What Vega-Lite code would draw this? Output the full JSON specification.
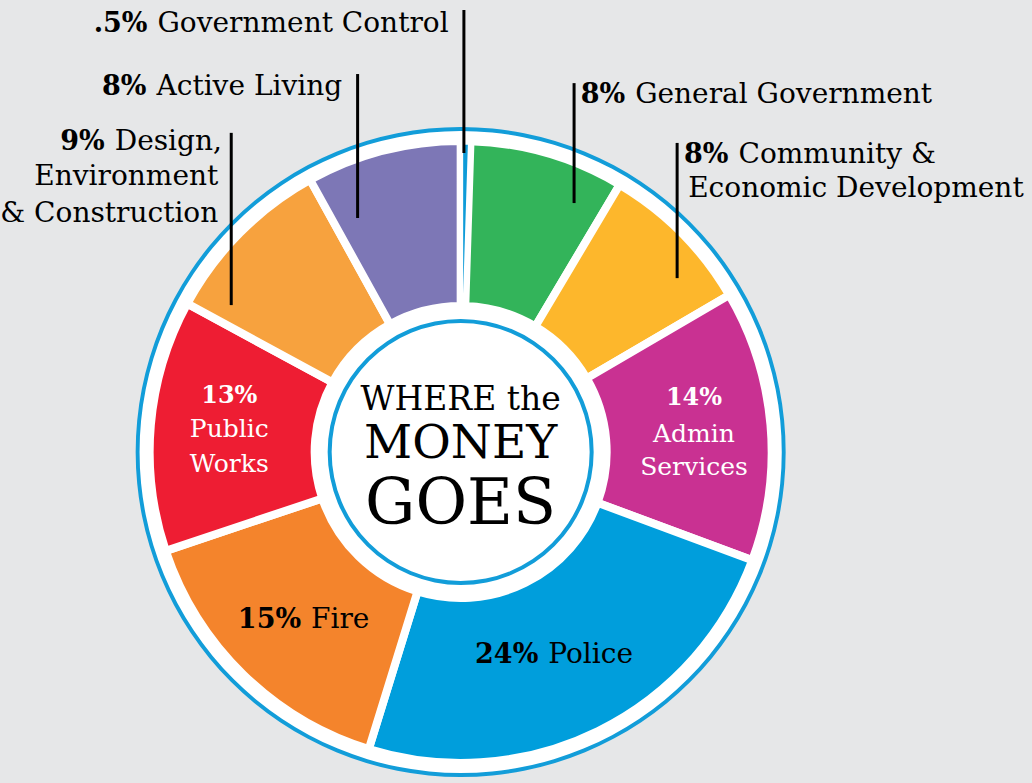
{
  "$schema": "https://vega.github.io/schema/vega-lite/v6.json",
  "autosize": {"type": "fit", "contains": "padding"},
  "width": 1032,
  "height": 783,
  "padding": 0,
  "background": "#e6e7e8",
  "config": {"view": {"stroke": null}},
  "datasets": {
    "slices": [
      {"category": "Government Control", "share": 0.5, "order": 1},
      {"category": "General Government", "share": 8, "order": 2},
      {"category": "Community & Economic Development", "share": 8, "order": 3},
      {"category": "Admin Services", "share": 14, "order": 4},
      {"category": "Police", "share": 24, "order": 5},
      {"category": "Fire", "share": 15, "order": 6},
      {"category": "Public Works", "share": 13, "order": 7},
      {"category": "Design, Environment & Construction", "share": 9, "order": 8},
      {"category": "Active Living", "share": 8, "order": 9}
    ],
    "lineLabels": [
      {"category": "Government Control", "pct": ".5%", "name": "Government Control", "x": -95.1, "y": 129.3},
      {"category": "Active Living", "pct": "8%", "name": "Active Living", "x": -95.4, "y": 109.8},
      {"category": "Design, Environment & Construction", "pct": "9%", "name": "Design,", "x": -108.3, "y": 92.9},
      {"category": "General Government", "pct": "8%", "name": "General Government", "x": 52.3, "y": 107.4},
      {"category": "Community & Economic Development", "pct": "8%", "name": "Community &", "x": 84.2, "y": 88.9},
      {"category": "Fire", "pct": "15%", "name": "Fire", "x": -47.7, "y": -54.1},
      {"category": "Police", "pct": "24%", "name": "Police", "x": 25.5, "y": -64.9}
    ],
    "rightLines": [
      {"text": "Environment", "x": -74.8, "y": 82.2},
      {"text": "& Construction", "x": -74.8, "y": 70.8}
    ],
    "leftLines": [
      {"text": "Economic Development", "x": 70.2, "y": 78.5}
    ],
    "insidePct": [
      {"text": "13%", "x": -71.4, "y": 15.2},
      {"text": "14%", "x": 72.0, "y": 14.5}
    ],
    "insideNames": [
      {"text": "Public", "x": -71.4, "y": 4.7},
      {"text": "Works", "x": -71.4, "y": -6.1},
      {"text": "Admin", "x": 72.0, "y": 3.2},
      {"text": "Services", "x": 72.0, "y": -7.1}
    ],
    "leaders": [
      {"category": "Government Control", "x": 1.0, "y": 136.0, "y2": 92.0},
      {"category": "Active Living", "x": -31.8, "y": 116.3, "y2": 72.0},
      {"category": "Design, Environment & Construction", "x": -70.8, "y": 98.2, "y2": 45.2},
      {"category": "General Government", "x": 35.0, "y": 113.5, "y2": 76.6},
      {"category": "Community & Economic Development", "x": 66.8, "y": 95.1, "y2": 53.5}
    ]
  },
  "layer": [
    {
      "data": {"name": "slices"},
      "transform": [{"filter": "datum.order == 1"}],
      "mark": {"type": "arc", "theta": 0, "theta2": 6.2832, "innerRadius": 0, "outerRadius": 322, "color": "#ffffff"},
      "encoding": {
        "x": {"datum": 0, "type": "quantitative", "scale": {"domain": [-141.23, 176.31], "nice": false, "zero": false}, "axis": null},
        "y": {"datum": 0, "type": "quantitative", "scale": {"domain": [-101.85, 139.08], "nice": false, "zero": false}, "axis": null}
      }
    },
    {
      "data": {"name": "slices"},
      "transform": [{"filter": "datum.order == 1"}],
      "mark": {"type": "arc", "theta": 0, "theta2": 6.2832, "innerRadius": 321, "outerRadius": 325, "color": "#129dd9"},
      "encoding": {
        "x": {"datum": 0, "type": "quantitative", "scale": {"domain": [-141.23, 176.31], "nice": false, "zero": false}, "axis": null},
        "y": {"datum": 0, "type": "quantitative", "scale": {"domain": [-101.85, 139.08], "nice": false, "zero": false}, "axis": null}
      }
    },
    {
      "data": {"name": "slices"},
      "transform": [
        {"stack": "share", "groupby": [], "sort": [{"field": "order", "order": "ascending"}], "as": ["t0", "t1"]}
      ],
      "layer": [
        {
          "mark": {"type": "arc", "innerRadius": 146, "outerRadius": 311, "stroke": "#ffffff", "strokeWidth": 8}
        },
        {
          "transform": [{"filter": "datum.order == 1"}],
          "mark": {"type": "arc", "innerRadius": 147, "outerRadius": 310, "stroke": "#ffffff", "strokeWidth": 5}
        }
      ],
      "encoding": {
        "x": {"datum": 0, "type": "quantitative", "scale": {"domain": [-141.23, 176.31], "nice": false, "zero": false}, "axis": null},
        "y": {"datum": 0, "type": "quantitative", "scale": {"domain": [-101.85, 139.08], "nice": false, "zero": false}, "axis": null},
        "theta": {"field": "t0", "type": "quantitative", "scale": {"domain": [0, 99.5]}},
        "theta2": {"field": "t1"},
        "color": {
          "field": "category",
          "type": "nominal",
          "legend": null,
          "scale": {
            "domain": ["Government Control", "General Government", "Community & Economic Development", "Admin Services", "Police", "Fire", "Public Works", "Design, Environment & Construction", "Active Living"],
            "range": ["#0e9bd8", "#33b45a", "#fdb72c", "#c93192", "#009edc", "#f4842c", "#ee1d33", "#f7a23e", "#7d77b6"]
          }
        }
      }
    },
    {
      "data": {"name": "slices"},
      "transform": [{"filter": "datum.order == 1"}],
      "mark": {"type": "arc", "theta": 0, "theta2": 6.2832, "innerRadius": 129, "outerRadius": 133, "color": "#129dd9"},
      "encoding": {
        "x": {"datum": 0, "type": "quantitative", "scale": {"domain": [-141.23, 176.31], "nice": false, "zero": false}, "axis": null},
        "y": {"datum": 0, "type": "quantitative", "scale": {"domain": [-101.85, 139.08], "nice": false, "zero": false}, "axis": null}
      }
    },
    {
      "data": {"name": "leaders"},
      "mark": {"type": "rule", "color": "#000000", "strokeWidth": 3},
      "encoding": {
        "x": {"field": "x", "type": "quantitative", "scale": {"domain": [-141.23, 176.31], "nice": false, "zero": false}, "axis": null},
        "y": {"field": "y", "type": "quantitative", "scale": {"domain": [-101.85, 139.08], "nice": false, "zero": false}, "axis": null},
        "y2": {"field": "y2"}
      }
    },
    {
      "data": {"name": "lineLabels"},
      "mark": {"type": "text", "align": "right", "baseline": "alphabetic", "dx": -5, "font": "DejaVu Serif", "fontWeight": "bold", "fontSize": 27, "color": "#000000"},
      "encoding": {
        "x": {"field": "x", "type": "quantitative", "scale": {"domain": [-141.23, 176.31], "nice": false, "zero": false}, "axis": null},
        "y": {"field": "y", "type": "quantitative", "scale": {"domain": [-101.85, 139.08], "nice": false, "zero": false}, "axis": null},
        "text": {"field": "pct"}
      }
    },
    {
      "data": {"name": "lineLabels"},
      "mark": {"type": "text", "align": "left", "baseline": "alphabetic", "dx": 5, "font": "DejaVu Serif", "fontSize": 28, "color": "#000000"},
      "encoding": {
        "x": {"field": "x", "type": "quantitative", "scale": {"domain": [-141.23, 176.31], "nice": false, "zero": false}, "axis": null},
        "y": {"field": "y", "type": "quantitative", "scale": {"domain": [-101.85, 139.08], "nice": false, "zero": false}, "axis": null},
        "text": {"field": "name"}
      }
    },
    {
      "data": {"name": "rightLines"},
      "mark": {"type": "text", "align": "right", "baseline": "alphabetic", "font": "DejaVu Serif", "fontSize": 28, "color": "#000000"},
      "encoding": {
        "x": {"field": "x", "type": "quantitative", "scale": {"domain": [-141.23, 176.31], "nice": false, "zero": false}, "axis": null},
        "y": {"field": "y", "type": "quantitative", "scale": {"domain": [-101.85, 139.08], "nice": false, "zero": false}, "axis": null},
        "text": {"field": "text"}
      }
    },
    {
      "data": {"name": "leftLines"},
      "mark": {"type": "text", "align": "left", "baseline": "alphabetic", "font": "DejaVu Serif", "fontSize": 28, "color": "#000000"},
      "encoding": {
        "x": {"field": "x", "type": "quantitative", "scale": {"domain": [-141.23, 176.31], "nice": false, "zero": false}, "axis": null},
        "y": {"field": "y", "type": "quantitative", "scale": {"domain": [-101.85, 139.08], "nice": false, "zero": false}, "axis": null},
        "text": {"field": "text"}
      }
    },
    {
      "data": {"name": "insidePct"},
      "mark": {"type": "text", "align": "center", "baseline": "alphabetic", "font": "DejaVu Serif", "fontWeight": "bold", "fontSize": 24, "color": "#ffffff"},
      "encoding": {
        "x": {"field": "x", "type": "quantitative", "scale": {"domain": [-141.23, 176.31], "nice": false, "zero": false}, "axis": null},
        "y": {"field": "y", "type": "quantitative", "scale": {"domain": [-101.85, 139.08], "nice": false, "zero": false}, "axis": null},
        "text": {"field": "text"}
      }
    },
    {
      "data": {"name": "insideNames"},
      "mark": {"type": "text", "align": "center", "baseline": "alphabetic", "font": "DejaVu Serif", "fontSize": 25, "color": "#ffffff"},
      "encoding": {
        "x": {"field": "x", "type": "quantitative", "scale": {"domain": [-141.23, 176.31], "nice": false, "zero": false}, "axis": null},
        "y": {"field": "y", "type": "quantitative", "scale": {"domain": [-101.85, 139.08], "nice": false, "zero": false}, "axis": null},
        "text": {"field": "text"}
      }
    },
    {
      "data": {"values": [{"text": "WHERE the", "x": 0, "y": 12.9}]},
      "mark": {"type": "text", "align": "center", "baseline": "alphabetic", "font": "DejaVu Serif", "fontSize": 33, "color": "#000000"},
      "encoding": {
        "x": {"field": "x", "type": "quantitative", "scale": {"domain": [-141.23, 176.31], "nice": false, "zero": false}, "axis": null},
        "y": {"field": "y", "type": "quantitative", "scale": {"domain": [-101.85, 139.08], "nice": false, "zero": false}, "axis": null},
        "text": {"field": "text"}
      }
    },
    {
      "data": {"values": [{"text": "MONEY", "x": 0, "y": -2.0}]},
      "mark": {"type": "text", "align": "center", "baseline": "alphabetic", "font": "DejaVu Serif", "fontSize": 47, "color": "#000000"},
      "encoding": {
        "x": {"field": "x", "type": "quantitative", "scale": {"domain": [-141.23, 176.31], "nice": false, "zero": false}, "axis": null},
        "y": {"field": "y", "type": "quantitative", "scale": {"domain": [-101.85, 139.08], "nice": false, "zero": false}, "axis": null},
        "text": {"field": "text"}
      }
    },
    {
      "data": {"values": [{"text": "GOES", "x": 0, "y": -22.2}]},
      "mark": {"type": "text", "align": "center", "baseline": "alphabetic", "font": "DejaVu Serif", "fontSize": 63, "color": "#000000"},
      "encoding": {
        "x": {"field": "x", "type": "quantitative", "scale": {"domain": [-141.23, 176.31], "nice": false, "zero": false}, "axis": null},
        "y": {"field": "y", "type": "quantitative", "scale": {"domain": [-101.85, 139.08], "nice": false, "zero": false}, "axis": null},
        "text": {"field": "text"}
      }
    }
  ]
}
